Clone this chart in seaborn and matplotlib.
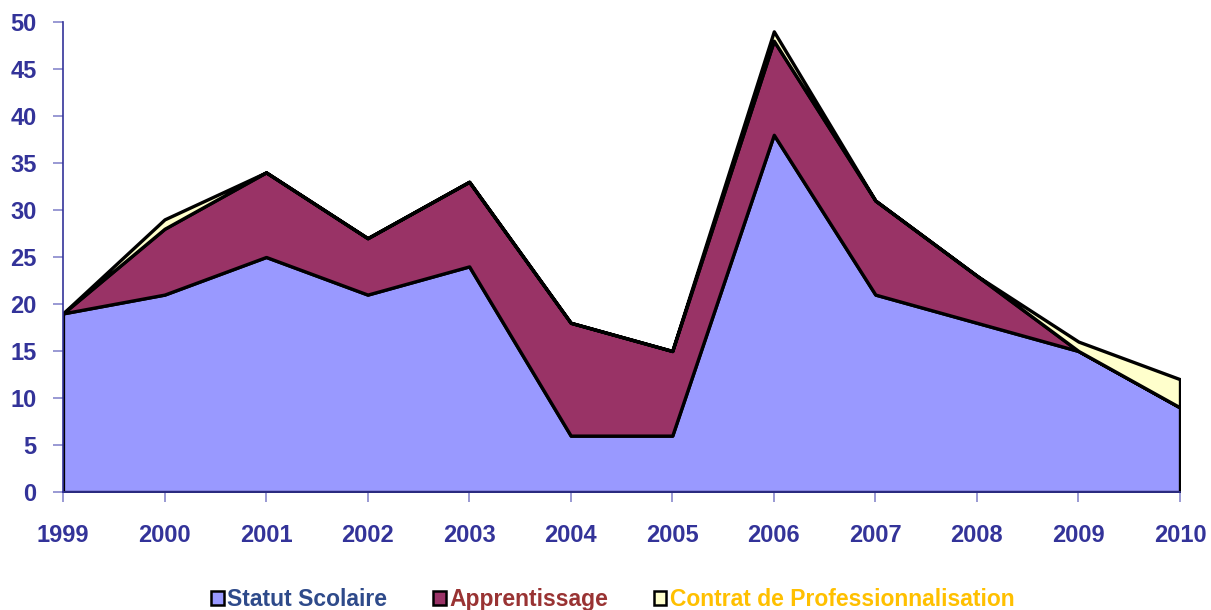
import matplotlib
matplotlib.use("Agg")
import matplotlib.pyplot as plt
import seaborn as sns
import numpy as np
from matplotlib.patches import Patch

years = [1999, 2000, 2001, 2002, 2003, 2004, 2005, 2006, 2007, 2008, 2009, 2010]
statut_scolaire = [19, 21, 25, 21, 24, 6, 6, 38, 21, 18, 15, 9]
apprentissage = [0, 7, 9, 6, 9, 12, 9, 10, 10, 5, 0, 0]
contrat_pro = [0, 1, 0, 0, 0, 0, 0, 1, 0, 0, 1, 3]
labels = ["Statut Scolaire", "Apprentissage", "Contrat de Professionnalisation"]
fill_colors = ["#9999FF", "#993366", "#FFFFCC"]
text_colors = ["#2E4A8A", "#993333", "#FFC000"]

sns.set_style("white", {"xtick.bottom": True, "ytick.left": True})
plt.rcParams['font.family'] = ['Liberation Sans', 'DejaVu Sans']

fig = plt.figure(figsize=(12.11, 6.10), dpi=100)
ax = fig.add_axes([0.052, 0.1934, 0.9224, 0.7706])

ax.stackplot(years, statut_scolaire, apprentissage, contrat_pro,
             colors=fill_colors, edgecolor="black", linewidth=2.4)

ax.set_xlim(years[0], years[-1])
ax.set_ylim(0, 50)
ax.set_xticks(years)
ax.set_xticklabels([str(y) for y in years])
ax.set_yticks(range(0, 51, 5))
ax.tick_params(axis="both", which="major", labelsize=17, labelcolor="#333399",
               colors="#8888CC", length=7, width=1.2, direction="out")
ax.tick_params(axis="x", pad=16)
ax.tick_params(axis="y", pad=12)
for lab in ax.get_xticklabels() + ax.get_yticklabels():
    lab.set_fontweight("bold")
    lab.set_color("#333399")

for s in ["top", "right"]:
    ax.spines[s].set_visible(False)
ax.spines["left"].set_color("#333399")
ax.spines["left"].set_linewidth(1.2)
ax.spines["bottom"].set_color("#333399")
ax.spines["bottom"].set_linewidth(1.2)

handles = [Patch(facecolor=c, edgecolor="black", linewidth=1.8) for c in fill_colors]
leg = fig.legend(handles, labels, loc="lower center", bbox_to_anchor=(0.506, -0.036),
                 ncol=3, frameon=False, prop={"size": 16.5, "weight": "bold"},
                 handlelength=0.55, handleheight=0.55, handletextpad=0.15,
                 columnspacing=2.0)
for t, c in zip(leg.get_texts(), text_colors):
    t.set_color(c)

fig.savefig("out.png", dpi=100)
